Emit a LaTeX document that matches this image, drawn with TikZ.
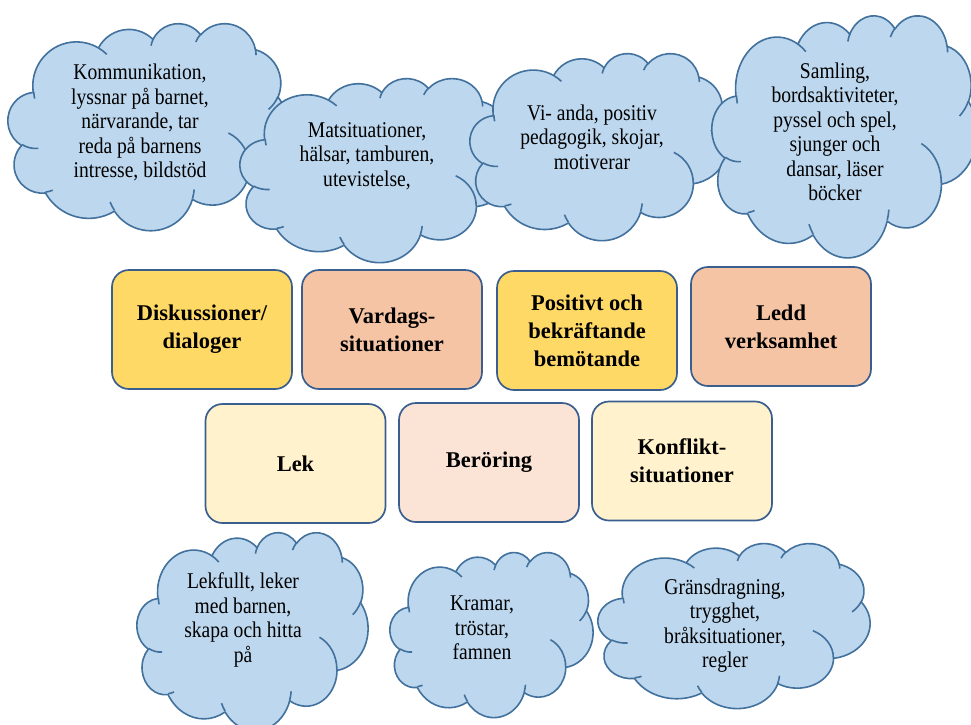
\documentclass[tikz,border=0pt]{standalone}
\usepackage{fontspec}
\setmainfont{Liberation Serif}
\newfontfamily\cloudfont{Liberation Serif}[FakeStretch=0.87]
\definecolor{CloudFill}{HTML}{BDD7EE}
\definecolor{CloudEdge}{HTML}{41719C}
\definecolor{BoxEdge}{HTML}{3A5F8F}
\definecolor{BoxGold}{HTML}{FFD966}
\definecolor{BoxPeach}{HTML}{F5C4A4}
\definecolor{BoxCream}{HTML}{FFF2CC}
\definecolor{BoxBlush}{HTML}{FBE3D5}

% one arc of the cloud outline, angles given on the ellipse as seen
\newcommand\cloudarc[4]{arc[start angle={atan2(#1*sin(#3),#2*cos(#3))},
  delta angle={mod(atan2(#1*sin(#3+#4),#2*cos(#3+#4))-atan2(#1*sin(#3),#2*cos(#3))+720,360)},
  x radius=#1, y radius=#2]}

% cloud in the box x, y, width, height (43.2 x 43.2 inside)
\newcommand\cloudshape[4]{%
\begin{scope}[shift={(#1,#2)},xscale=#3/43.2,yscale=#4/43.2]
\filldraw[cloudline,fill=CloudFill] (3.9,14.37)
  \cloudarc{6.753}{9.19}{-190.4875}{123.7805}
  \cloudarc{5.333}{7.267}{-144.1024}{89.9452}
  \cloudarc{4.365}{5.945}{-145.8079}{99.7230}
  \cloudarc{4.857}{6.595}{-130.9861}{117.2417}
  \cloudarc{5.333}{7.273}{-78.7089}{109.0269}
  \cloudarc{6.775}{9.22}{-46.2673}{130.2690}
  \cloudarc{5.785}{7.867}{0.6250}{114.0333}
  \cloudarc{6.752}{9.215}{22.4516}{115.1726}
  \cloudarc{7.72}{10.543}{66.2426}{75.7110}
  \cloudarc{4.36}{5.918}{-274.9421}{146.7356}
  \cloudarc{4.345}{5.945}{-246.8285}{152.5189} -- cycle;
\draw[cloudline]
  (4.693,26.177) \cloudarc{4.345}{5.945}{86.7420}{26.4295}
  (6.928,34.899) \cloudarc{4.36}{5.918}{73.6105}{11.4475}
  (16.478,39.09) \cloudarc{6.752}{9.215}{137.6242}{14.0811}
  (28.827,34.751) \cloudarc{6.752}{9.215}{6.4533}{15.9984}
  (34.129,22.954) \cloudarc{5.785}{7.867}{-70.2924}{70.9174}
  (41.798,15.354) \cloudarc{5.333}{7.273}{30.3180}{27.7515}
  (38.324,5.426) \cloudarc{4.857}{6.595}{-13.7443}{14.8589}
  (29.078,3.952) \cloudarc{4.857}{6.595}{-149.1815}{18.1954}
  (22.141,4.72) \cloudarc{4.365}{5.945}{-163.4943}{17.6864}
  (14,5.192) \cloudarc{6.753}{9.19}{-66.7070}{12.3194}
  (4.127,15.789) \cloudarc{6.753}{9.19}{163.9315}{11.8618};
\end{scope}}

\begin{document}
\begin{tikzpicture}[x=1pt,y=-1pt,
  cloudline/.style={draw=CloudEdge,line width=1.6pt,line join=round},
  cloudtext/.style={font=\cloudfont\fontsize{22.5}{24.5}\selectfont,align=center,inner sep=0pt},
  area/.style={draw=BoxEdge,line width=1.7pt,rounded corners=17pt,minimum width=180pt,
    minimum height=119pt,align=center,inner sep=2pt,font=\bfseries\fontsize{22.5}{28}\selectfont}]
\path[use as bounding box] (0,0) rectangle (971,724);
\fill[white] (0,0) rectangle (971,724);

\cloudshape{8}{23}{279}{207}
\node[cloudtext] (kommunikation) at (140,122.5) {Kommunikation,\\lyssnar på barnet,\\närvarande, tar\\reda på barnens\\intresse, bildstöd};
\cloudshape{240}{78}{273}{184}
\node[cloudtext] (mat) at (367,156) {Matsituationer,\\hälsar, tamburen,\\utevistelse,};
\cloudshape{470}{53}{258}{187}
\node[cloudtext] (vianda) at (592,137) {Vi- anda, positiv\\pedagogik, skojar,\\motiverar};
\cloudshape{712}{15}{265}{242}
\node[cloudtext] (samling) at (835,132) {Samling,\\bordsaktiviteter,\\pyssel och spel,\\sjunger och\\dansar, läser\\böcker};

\node[area,fill=BoxGold] (dialog) at (202,329.5) {Diskussioner/\\dialoger};
\node[area,fill=BoxPeach] (vardag) at (392,329.5) {Vardags-\\situationer};
\node[area,fill=BoxGold] (bemote) at (587,330.5) {Positivt och\\bekräftande\\bemötande};
\node[area,fill=BoxPeach] (ledd) at (781,326.5) {Ledd\\verksamhet};
\node[area,fill=BoxCream] (lek) at (295.5,463.5) {Lek};
\node[area,fill=BoxBlush] (beroring) at (489,462.5) {Beröring};
\node[area,fill=BoxCream] (konflikt) at (682,461) {Konflikt-\\situationer};

\cloudshape{137}{532}{231}{198}
\node[cloudtext] (lekfullt) at (243,620) {Lekfullt, leker\\med barnen,\\skapa och hitta\\på};
\cloudshape{390}{552}{203}{165}
\node[cloudtext] (kramar) at (482,628) {Kramar,\\tröstar,\\famnen};
\cloudshape{598}{543}{272}{165}
\node[cloudtext] (grans) at (725,625.5) {Gränsdragning,\\trygghet,\\bråksituationer,\\regler};
\end{tikzpicture}
\end{document}
